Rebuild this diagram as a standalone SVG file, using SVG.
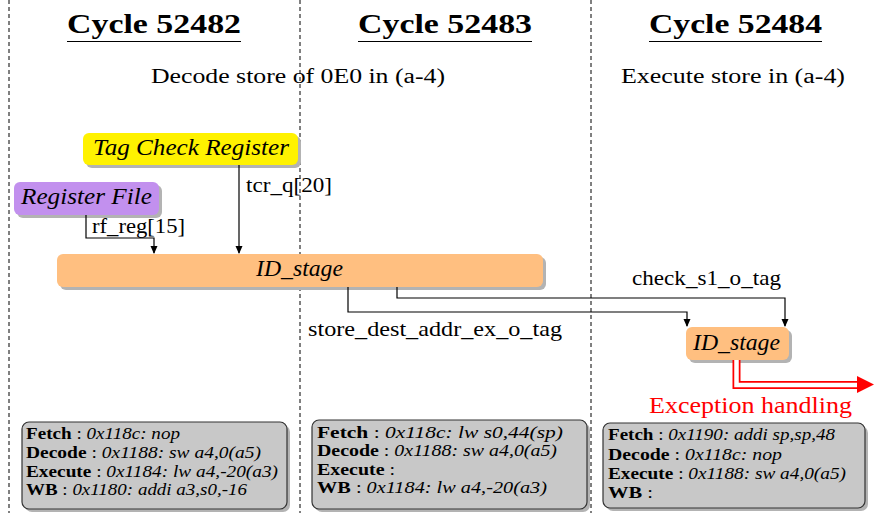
<svg xmlns="http://www.w3.org/2000/svg" width="874" height="513" viewBox="0 0 874 513">
<defs>
<marker id="ah" markerWidth="8" markerHeight="8" refX="7" refY="4" orient="auto" markerUnits="userSpaceOnUse">
<path d="M0,0.5 L8,4 L0,7.5 Z" fill="#000"/>
</marker>
</defs>
<style>
text{fill:#000;font-family:"Liberation Serif","Times New Roman",serif}
.title{font-weight:bold;font-size:27px}
.sub{font-size:20.5px}
.lab{font-size:21px}
.node{font-style:italic;font-size:24px}
.info{font-size:16.5px}
.b{font-weight:bold}
.i{font-style:italic}
.sep{stroke:#000;stroke-width:1;stroke-dasharray:4 3;fill:none}
.conn{stroke:#000;stroke-width:1.2;fill:none}
.shadow{fill:#b3b3b3}
.box{fill:#c8c8c8;stroke:#333;stroke-width:1.2}
</style>
<g id="separators">
<line class="sep" x1="9" y1="0" x2="9" y2="513"/>
<line class="sep" x1="300" y1="0" x2="300" y2="513"/>
<line class="sep" x1="591" y1="0" x2="591" y2="513"/>
</g>
<g id="titles">
<text class="title" x="67" y="33" textLength="174" lengthAdjust="spacingAndGlyphs">Cycle 52482</text>
<line x1="67" y1="41.5" x2="241" y2="41.5" stroke="#000" stroke-width="1.2"/>
<text class="title" x="358" y="33" textLength="174" lengthAdjust="spacingAndGlyphs">Cycle 52483</text>
<line x1="358" y1="41.5" x2="532" y2="41.5" stroke="#000" stroke-width="1.2"/>
<text class="title" x="649" y="33" textLength="173" lengthAdjust="spacingAndGlyphs">Cycle 52484</text>
<line x1="649" y1="41.5" x2="822" y2="41.5" stroke="#000" stroke-width="1.2"/>
<text class="sub" x="151" y="83" textLength="294" lengthAdjust="spacingAndGlyphs">Decode store of 0E0 in (a-4)</text>
<text class="sub" x="621" y="83" textLength="224" lengthAdjust="spacingAndGlyphs">Execute store in (a-4)</text>
</g>
<g id="tcr">
<rect class="shadow" x="86" y="136" width="215" height="32" rx="6"/>
<rect x="83" y="133" width="215" height="32" rx="6" fill="#fff200"/>
<text class="node" x="93" y="155" textLength="196" lengthAdjust="spacingAndGlyphs">Tag Check Register</text>
</g>
<g id="regfile">
<rect class="shadow" x="17" y="185" width="145" height="33" rx="6"/>
<rect x="14" y="182" width="145" height="33" rx="6" fill="#c290ee"/>
<text class="node" x="21" y="204" textLength="131" lengthAdjust="spacingAndGlyphs">Register File</text>
</g>
<g id="idstage1">
<rect class="shadow" x="60" y="257" width="486" height="33" rx="6"/>
<rect x="57" y="254" width="486" height="33" rx="6" fill="#ffbf80"/>
<text class="node" x="256" y="276" textLength="87" lengthAdjust="spacingAndGlyphs">ID_stage</text>
</g>
<g id="idstage2">
<rect class="shadow" x="689" y="330" width="103" height="33" rx="6"/>
<rect x="686" y="327" width="103" height="33" rx="6" fill="#ffbf80"/>
<text class="node" x="693" y="350" textLength="87" lengthAdjust="spacingAndGlyphs">ID_stage</text>
</g>
<g id="connectors">
<path class="conn" d="M86,215 V238 H154 V253" marker-end="url(#ah)"/>
<path class="conn" d="M239,165 V253" marker-end="url(#ah)"/>
<path class="conn" d="M348,287 V312 H687 V326" marker-end="url(#ah)"/>
<path class="conn" d="M397,287 V298 H785 V326" marker-end="url(#ah)"/>
<text class="lab" x="92" y="233" textLength="93" lengthAdjust="spacingAndGlyphs">rf_reg[15]</text>
<text class="lab" x="246" y="192" textLength="86" lengthAdjust="spacingAndGlyphs">tcr_q[20]</text>
<text class="lab" x="308" y="336" textLength="254" lengthAdjust="spacingAndGlyphs">store_dest_addr_ex_o_tag</text>
<text class="lab" x="632" y="285" textLength="149" lengthAdjust="spacingAndGlyphs">check_s1_o_tag</text>
<path d="M736.5,360 V385 H860" fill="none" stroke="#ff0000" stroke-width="8"/>
<path d="M736.5,360 V385 H860" fill="none" stroke="#fff" stroke-width="4.5"/>
<polygon points="857,376 874,384.5 857,393" fill="#ff0000"/>
<text x="649" y="413" font-size="22.5" textLength="203" lengthAdjust="spacingAndGlyphs" style="fill:#ff0000">Exception handling</text>
</g>
<g id="state1">
<rect class="shadow" x="25" y="425" width="265" height="87" rx="7"/>
<rect class="box" x="22" y="422" width="265" height="87" rx="7"/>
<text class="info" x="26" y="439" textLength="154" lengthAdjust="spacingAndGlyphs"><tspan class="b">Fetch</tspan> : <tspan class="i">0x118c: nop</tspan></text>
<text class="info" x="26" y="458" textLength="235" lengthAdjust="spacingAndGlyphs"><tspan class="b">Decode</tspan> : <tspan class="i">0x1188: sw a4,0(a5)</tspan></text>
<text class="info" x="26" y="477" textLength="252" lengthAdjust="spacingAndGlyphs"><tspan class="b">Execute</tspan> : <tspan class="i">0x1184: lw a4,-20(a3)</tspan></text>
<text class="info" x="26" y="495" textLength="221" lengthAdjust="spacingAndGlyphs"><tspan class="b">WB</tspan> : <tspan class="i">0x1180: addi a3,s0,-16</tspan></text>
</g>
<g id="state2">
<rect class="shadow" x="315" y="423" width="275" height="89" rx="7"/>
<rect class="box" x="312" y="420" width="275" height="89" rx="7"/>
<text class="info" x="317" y="438" textLength="246" lengthAdjust="spacingAndGlyphs"><tspan class="b">Fetch</tspan> : <tspan class="i">0x118c: lw s0,44(sp)</tspan></text>
<text class="info" x="317" y="456" textLength="240" lengthAdjust="spacingAndGlyphs"><tspan class="b">Decode</tspan> : <tspan class="i">0x1188: sw a4,0(a5)</tspan></text>
<text class="info" x="317" y="475" textLength="78" lengthAdjust="spacingAndGlyphs"><tspan class="b">Execute</tspan> :</text>
<text class="info" x="317" y="493" textLength="230" lengthAdjust="spacingAndGlyphs"><tspan class="b">WB</tspan> : <tspan class="i">0x1184: lw a4,-20(a3)</tspan></text>
</g>
<g id="state3">
<rect class="shadow" x="606" y="426" width="262" height="85" rx="7"/>
<rect class="box" x="603" y="423" width="262" height="85" rx="7"/>
<text class="info" x="608" y="440" textLength="227" lengthAdjust="spacingAndGlyphs"><tspan class="b">Fetch</tspan> : <tspan class="i">0x1190: addi sp,sp,48</tspan></text>
<text class="info" x="608" y="460" textLength="174" lengthAdjust="spacingAndGlyphs"><tspan class="b">Decode</tspan> : <tspan class="i">0x118c: nop</tspan></text>
<text class="info" x="608" y="479" textLength="238" lengthAdjust="spacingAndGlyphs"><tspan class="b">Execute</tspan> : <tspan class="i">0x1188: sw a4,0(a5)</tspan></text>
<text class="info" x="608" y="498" textLength="45" lengthAdjust="spacingAndGlyphs"><tspan class="b">WB</tspan> :</text>
</g>
</svg>
